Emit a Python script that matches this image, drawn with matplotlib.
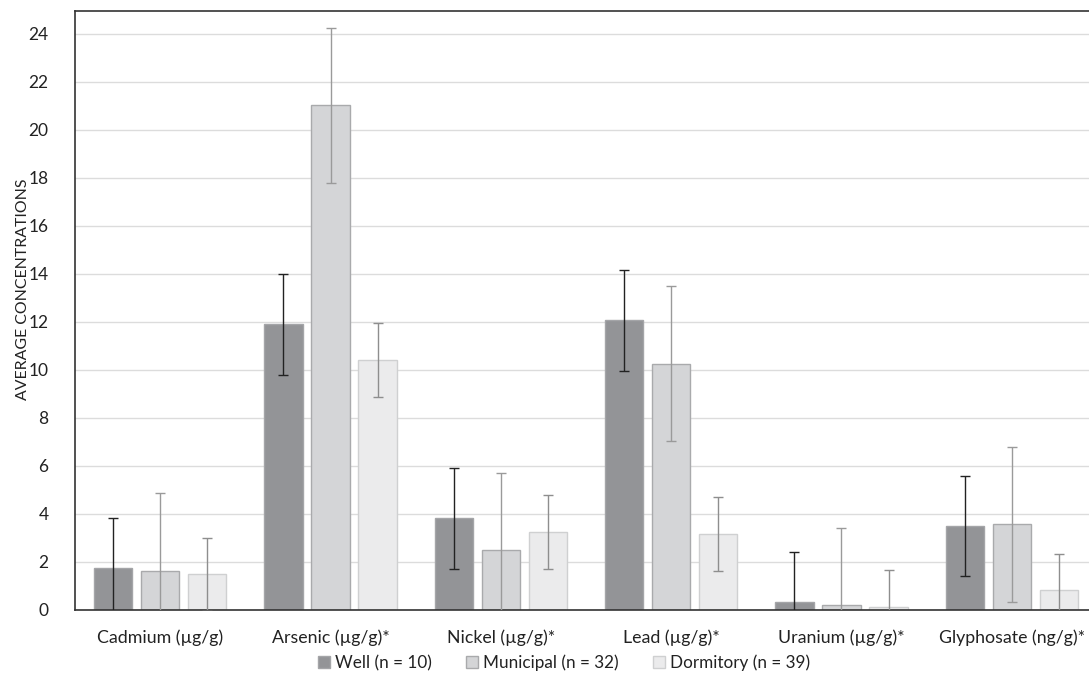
import matplotlib
matplotlib.use("Agg")
import matplotlib.pyplot as plt
import numpy as np

categories = ["Cadmium (µg/g)", "Arsenic (µg/g)*", "Nickel (µg/g)*", "Lead (µg/g)*",
              "Uranium (µg/g)*", "Glyphosate (ng/g)*"]
series_names = ["Well (n = 10)", "Municipal (n = 32)", "Dormitory (n = 39)"]
well = [1.74, 11.9, 3.82, 12.07, 0.35, 3.5]
municipal = [1.64, 21.02, 2.48, 10.25, 0.19, 3.57]
dormitory = [1.49, 10.42, 3.25, 3.18, 0.14, 0.82]
well_err = [2.08, 2.1, 2.1, 2.1, 2.08, 2.09]
municipal_err = [3.24, 3.22, 3.24, 3.23, 3.24, 3.22]
dormitory_err = [1.52, 1.53, 1.53, 1.54, 1.53, 1.53]
yticks = [0, 2, 4, 6, 8, 10, 12, 14, 16, 18, 20, 22, 24]

plt.rcParams['font.family'] = ['Lato', 'DejaVu Sans']

fig = plt.figure(figsize=(10.89, 6.84), dpi=100)
ax = fig.add_axes([75/1089, 74/684, 1022/1089, 599/684])

x = np.arange(len(categories))
width = 0.225
offset = 0.276
values = [well, municipal, dormitory]
errs = [well_err, municipal_err, dormitory_err]
fills = ["#939497", "#d4d5d7", "#ebebec"]
edges = ["#a4a5a8", "#a9aaac", "#cfd0d1"]
ecolors = ["#222222", "#9a9a9a", "#8e8e8e"]

for i in range(3):
    pos = x + (i - 1) * offset
    ax.bar(pos, values[i], width, color=fills[i], edgecolor=edges[i], linewidth=1.0,
           label=series_names[i], zorder=2)
    ax.errorbar(pos, values[i], yerr=errs[i], fmt='none', ecolor=ecolors[i],
                elinewidth=1.0, capsize=3.5, capthick=1.0, zorder=3)

ax.set_xlim(-0.5, len(categories) - 0.5)
ax.set_ylim(0, 24.95)
ax.set_yticks(yticks)
ax.set_xticks(x)
ax.set_xticklabels(categories, fontsize=12.8, color="#222222")
ax.tick_params(axis='y', labelsize=12.5, labelcolor="#222222", length=0, pad=19)
ax.tick_params(axis='x', length=0, pad=14)
ax.yaxis.grid(True, color="#dcdcdc", linewidth=1.0, zorder=0)
ax.set_axisbelow(True)
for s in ['left', 'top', 'bottom']:
    ax.spines[s].set_color("#333333")
    ax.spines[s].set_linewidth(1.2)
ax.spines['right'].set_visible(False)
ax.set_ylabel("AVERAGE CONCENTRATIONS", fontsize=11.4, color="#222222")
ax.yaxis.set_label_coords(-45/1022, 0.536)

leg = fig.legend(loc='center', bbox_to_anchor=(564/1089, 1 - 663/684), ncol=3,
                 frameon=False, fontsize=12.3, handlelength=0.7, handleheight=0.7,
                 handletextpad=0.3, columnspacing=2.0)
for t in leg.get_texts():
    t.set_color("#222222")

fig.savefig("out.png", dpi=100)
